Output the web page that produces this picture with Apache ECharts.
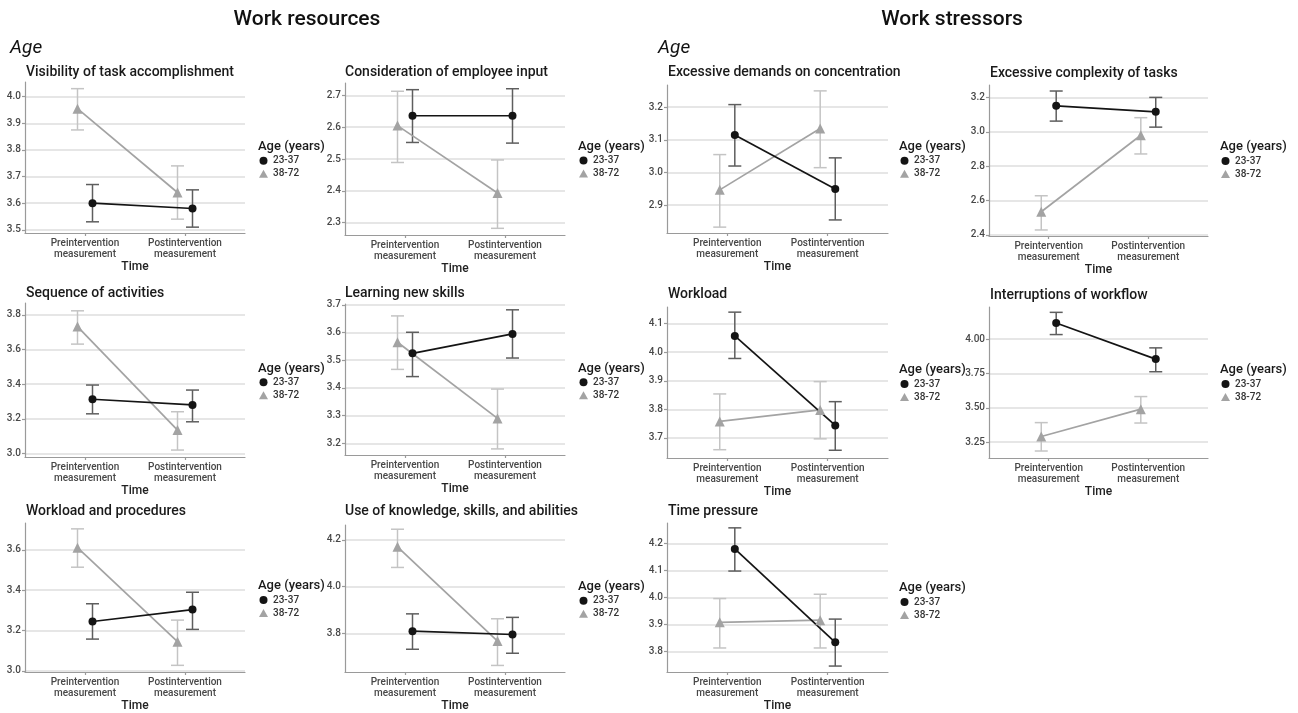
<!DOCTYPE html>
<html><head><meta charset="utf-8">
<script src="https://cdn.jsdelivr.net/npm/echarts@6/dist/echarts.min.js"></script>
<style>html,body{margin:0;padding:0;background:#fff}#c{width:1298px;height:713px}</style>
</head><body><div id="c"></div><script>
// ---------- data ----------
const timeLabels = ['Preintervention\nmeasurement', 'Postintervention\nmeasurement'];
const groupNames = ['23-37', '38-72'];
const panelTitles = [
  'Visibility of task accomplishment', 'Consideration of employee input',
  'Excessive demands on concentration', 'Excessive complexity of tasks',
  'Sequence of activities', 'Learning new skills', 'Workload', 'Interruptions of workflow',
  'Workload and procedures', 'Use of knowledge, skills, and abilities', 'Time pressure'
];
// [pre, post] per panel
const youngMean = [[3.60,3.58],[2.636,2.636],[3.115,2.95],[3.151,3.116],[3.313,3.28],[3.525,3.595],[4.057,3.744],[4.118,3.855],[3.245,3.304],[3.81,3.796],[4.18,3.834]];
const youngLow  = [[3.53,3.51],[2.552,2.55],[3.02,2.855],[3.062,3.027],[3.229,3.183],[3.441,3.508],[3.978,3.657],[4.034,3.763],[3.158,3.206],[3.733,3.716],[4.098,3.746]];
const youngHigh = [[3.67,3.65],[2.718,2.721],[3.208,3.045],[3.237,3.2],[3.395,3.366],[3.601,3.682],[4.14,3.827],[4.196,3.937],[3.333,3.39],[3.884,3.869],[4.258,3.92]];
const oldMean = [[3.955,3.64],[2.605,2.393],[2.947,3.135],[2.535,2.98],[3.732,3.135],[3.565,3.29],[3.758,3.798],[3.291,3.49],[3.611,3.145],[4.17,3.768],[3.908,3.916]];
const oldLow  = [[3.875,3.54],[2.489,2.282],[2.833,3.015],[2.429,2.871],[3.631,3.02],[3.467,3.18],[3.659,3.697],[3.185,3.389],[3.514,3.028],[4.082,3.664],[3.813,3.813]];
const oldHigh = [[4.03,3.74],[2.713,2.497],[3.055,3.25],[2.628,3.082],[3.823,3.241],[3.66,3.396],[3.854,3.897],[3.392,3.582],[3.704,3.252],[4.245,3.863],[3.996,4.012]];
const yTicks = [[3.5,3.6,3.7,3.8,3.9,4.0],[2.3,2.4,2.5,2.6,2.7],[2.9,3.0,3.1,3.2],[2.4,2.6,2.8,3.0,3.2],[3.0,3.2,3.4,3.6,3.8],[3.2,3.3,3.4,3.5,3.6,3.7],[3.7,3.8,3.9,4.0,4.1],[3.25,3.5,3.75,4.0],[3.0,3.2,3.4,3.6],[3.8,4.0,4.2],[3.8,3.9,4.0,4.1,4.2]];
const yDecimals = [1,1,1,1,1,1,1,2,1,1,1];
const yMin = [3.488,2.261,2.815,2.394,2.98,3.158,3.63,3.134,2.995,3.636,3.724];
const yMax = [4.055,2.739,3.268,3.272,3.868,3.703,4.158,4.235,3.733,4.263,4.276];

// ---------- layout ----------
const FONT = 'Roboto, "Noto Sans", sans-serif';
const colX = [[25,220],[345,220],[667,221],[989,219]];
const panelBox = [[0,82,233],[1,83,235],[2,85,233],[3,85,236],[0,303,457],[1,304,455],[2,307,458],[3,307,458],[0,523,675],[1,525,675],[2,523,673]];
const titleY = [72,72,72.5,73,293,293,294,295,511.5,511.5,511];
const titleX = [26,345,668,990];
const legendY = [146.7,146.5,146.7,147,368.3,368.3,370,370,586,586.7,588];
const legendX = [258,578,899,1220];
const DODGE = 0.075;
const COLORS = {line:['#141414','#a3a3a3'], err:['#5e5e5e','#c4c4c4']};

function errRender(color){
  return function(params, api){
    const x = api.value(0), lo = api.value(1), hi = api.value(2);
    const a = api.coord([x, lo]), b = api.coord([x, hi]);
    const w = 6.5, st = {stroke: color, lineWidth: 1.5};
    return {type:'group', children:[
      {type:'line', shape:{x1:a[0], y1:a[1], x2:b[0], y2:b[1]}, style:st},
      {type:'line', shape:{x1:a[0]-w, y1:a[1], x2:a[0]+w, y2:a[1]}, style:st},
      {type:'line', shape:{x1:b[0]-w, y1:b[1], x2:b[0]+w, y2:b[1]}, style:st}
    ]};
  };
}

const grid=[], xAxis=[], yAxis=[], series=[], legend=[], graphics=[];
const axisLineStyle = {color:'#9a9a9a', width:1.2};

graphics.push({type:'text', x:307, y:20, style:{text:'Work resources', font:'500 21px '+FONT, fill:'#111', textAlign:'center', textVerticalAlign:'middle', verticalAlign:'middle'}});
graphics.push({type:'text', x:952, y:20, style:{text:'Work stressors', font:'500 21px '+FONT, fill:'#111', textAlign:'center', textVerticalAlign:'middle', verticalAlign:'middle'}});
graphics.push({type:'text', x:10, y:48, style:{text:'Age', font:'italic 19px '+FONT, fill:'#111', textAlign:'left', textVerticalAlign:'middle', verticalAlign:'middle'}});
graphics.push({type:'text', x:658, y:48, style:{text:'Age', font:'italic 19px '+FONT, fill:'#111', textAlign:'left', textVerticalAlign:'middle', verticalAlign:'middle'}});

panelTitles.forEach((t, i) => {
  const [c, top, bottom] = panelBox[i];
  grid.push({left: colX[c][0], top: top, width: colX[c][1], height: bottom - top});
  xAxis.push({
    type:'value', gridIndex:i, min:0.4, max:2.6,
    name:'Time', nameLocation:'middle', nameGap:28,
    nameTextStyle:{fontSize:12, fontWeight:500, color:'#222', fontFamily:FONT},
    axisLine:{show:true, onZero:false, lineStyle:axisLineStyle},
    axisTick:{show:true, customValues:[1,2], length:3, lineStyle:axisLineStyle},
    axisLabel:{customValues:[1,2], formatter: v => timeLabels[Math.round(v)-1], fontSize:10, fontWeight:500, lineHeight:11, margin:5, color:'#474747', fontFamily:FONT},
    splitLine:{show:false}
  });
  yAxis.push({
    type:'value', gridIndex:i, min:yMin[i], max:yMax[i],
    axisLine:{show:true, onZero:false, lineStyle:axisLineStyle},
    axisTick:{show:true, customValues:yTicks[i], length:3, lineStyle:axisLineStyle},
    axisLabel:{customValues:yTicks[i], formatter: v => Number(v).toFixed(yDecimals[i]), fontSize:10, fontWeight:500, margin:4, color:'#474747', fontFamily:FONT},
    splitLine:{show:true, lineStyle:{color:'#dedede', width:1.5}}
  });
  const groups = [
    {mean: oldMean[i], low: oldLow[i], high: oldHigh[i], g:1, off:-DODGE},
    {mean: youngMean[i], low: youngLow[i], high: youngHigh[i], g:0, off:DODGE}
  ];
  groups.forEach(gr => {
    series.push({
      type:'custom', xAxisIndex:i, yAxisIndex:i, silent:true, z:2,
      renderItem: errRender(COLORS.err[gr.g]),
      encode:{x:0, y:[1,2]},
      data:[0,1].map(k => [k + 1 + gr.off, gr.low[k], gr.high[k]])
    });
    series.push({
      type:'line', name:groupNames[gr.g], xAxisIndex:i, yAxisIndex:i, z:3,
      data:[0,1].map(k => [k + 1 + gr.off, gr.mean[k]]),
      symbol: gr.g ? 'triangle' : 'circle', symbolSize: gr.g ? 10 : 8,
      itemStyle:{color: COLORS.line[gr.g], opacity:1},
      lineStyle:{color: COLORS.line[gr.g], width:1.7},
      emphasis:{disabled:true}
    });
  });
  graphics.push({type:'text', x: titleX[c], y: titleY[i], style:{text:t, font:'500 14px '+FONT, fill:'#1a1a1a', textAlign:'left', textVerticalAlign:'middle', verticalAlign:'middle'}});
  graphics.push({type:'text', x: legendX[c], y: legendY[i], style:{text:'Age (years)', font:'500 13px '+FONT, fill:'#1a1a1a', textAlign:'left', textVerticalAlign:'middle', verticalAlign:'middle'}});
  legend.push({
    left: legendX[c] + 1, top: legendY[i] + 8, orient:'vertical', padding:0, itemGap:1,
    itemWidth:9, itemHeight:8, selectedMode:false,
    data:[{name:groupNames[0], icon:'circle'}, {name:groupNames[1], icon:'triangle'}],
    textStyle:{fontSize:10, fontWeight:500, lineHeight:12, color:'#333', fontFamily:FONT}
  });
});

const chart = echarts.init(document.getElementById('c'));
chart.setOption({animation:false, backgroundColor:'#fff', grid, xAxis, yAxis, series, legend, graphic:{elements:graphics}});
</script></body></html>
